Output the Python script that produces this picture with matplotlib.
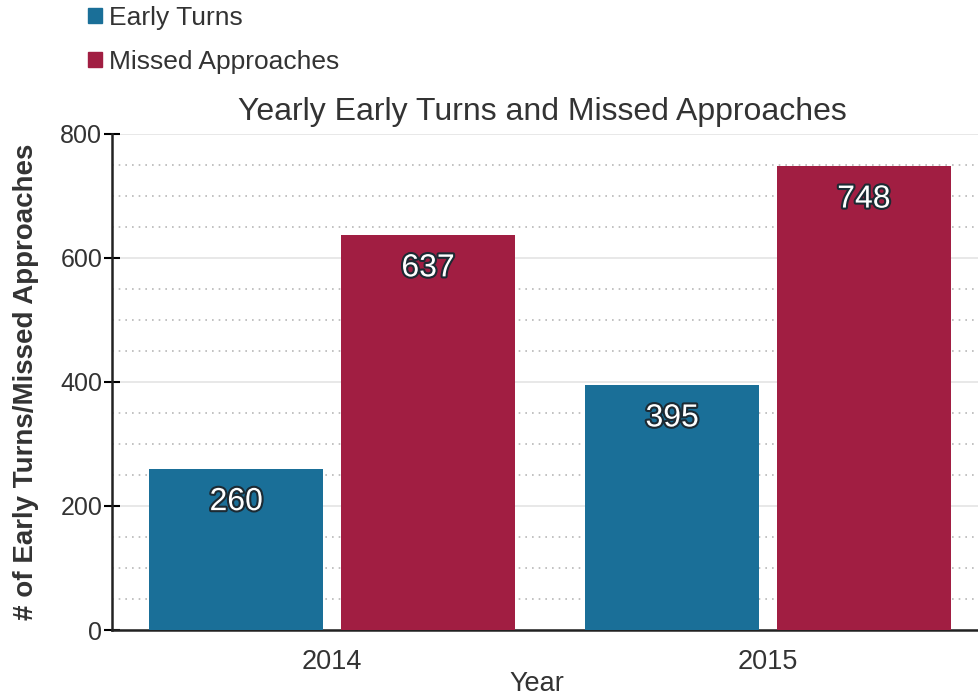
import numpy as np
import matplotlib
matplotlib.use("Agg")
import matplotlib.pyplot as plt
import matplotlib.patheffects as pe
from matplotlib.patches import Rectangle

years = ["2014", "2015"]
early_turns = [260, 395]
missed_approaches = [637, 748]
series_names = ["Early Turns", "Missed Approaches"]
y_ticks = [0, 200, 400, 600, 800]

blue = "#1a6f98"
red = "#a11e42"
txt = "#333333"

plt.rcParams['font.family'] = ['Liberation Sans', 'DejaVu Sans']

fig = plt.figure(figsize=(9.79, 7.0), dpi=100)
ax = fig.add_axes([0.1144, 0.1, 0.8856, 0.7086])

x = np.arange(len(years))
w = 0.4
off = 0.22
b1 = ax.bar(x - off, early_turns, w, color=blue, zorder=3)
b2 = ax.bar(x + off, missed_approaches, w, color=red, zorder=3)

# value labels inside the top of each bar
for bars, vals in [(b1, early_turns), (b2, missed_approaches)]:
    for r, v in zip(bars, vals):
        ax.annotate(str(v), (r.get_x() + r.get_width() / 2, v),
                    xytext=(0, -24), textcoords="offset points",
                    ha="center", va="center", fontsize=23, color="white",
                    zorder=5,
                    path_effects=[pe.withStroke(linewidth=3, foreground="#1c2a33")])

ax.set_xlim(-0.505, 1.484)
ax.set_ylim(0, 800)
ax.set_yticks(y_ticks)
ax.set_yticks(np.arange(0, 801, 50), minor=True)
ax.grid(axis="y", which="minor", linestyle=(0, (1, 3)), color="#b8b8b8", linewidth=1.2, zorder=0)
ax.grid(axis="y", which="major", linestyle="-", color="#e4e4e4", linewidth=1.2, zorder=0)
ax.tick_params(axis="y", which="major", direction="inout", length=12, width=1.5,
               labelsize=18, labelcolor=txt, pad=1)
ax.tick_params(axis="y", which="minor", length=0)
ax.set_xticks(x)
ax.set_xticklabels(years)
ax.tick_params(axis="x", length=0, labelsize=19.5, labelcolor=txt, pad=14)

for s in ["top", "right"]:
    ax.spines[s].set_visible(False)
for s in ["left", "bottom"]:
    ax.spines[s].set_linewidth(1.8)
    ax.spines[s].set_color("#222222")

ax.set_title("Yearly Early Turns and Missed Approaches", fontsize=23, color=txt, pad=10,
             x=0.496)
ax.set_ylabel("# of Early Turns/Missed Approaches", fontsize=20, fontweight="bold",
              color=txt, labelpad=15)
ax.set_xlabel("Year", fontsize=19.5, color=txt, labelpad=-3, x=0.49)

# legend at top-left
handles = [Rectangle((0, 0), 1, 1, color=blue), Rectangle((0, 0), 1, 1, color=red)]
fig.legend(handles, series_names, loc="upper left", bbox_to_anchor=(0.066, 1.025),
           frameon=False, fontsize=19, handlelength=0.5, handleheight=0.5,
           handletextpad=0.3, labelspacing=0.75, labelcolor=txt)

fig.savefig("out.png", dpi=100)
